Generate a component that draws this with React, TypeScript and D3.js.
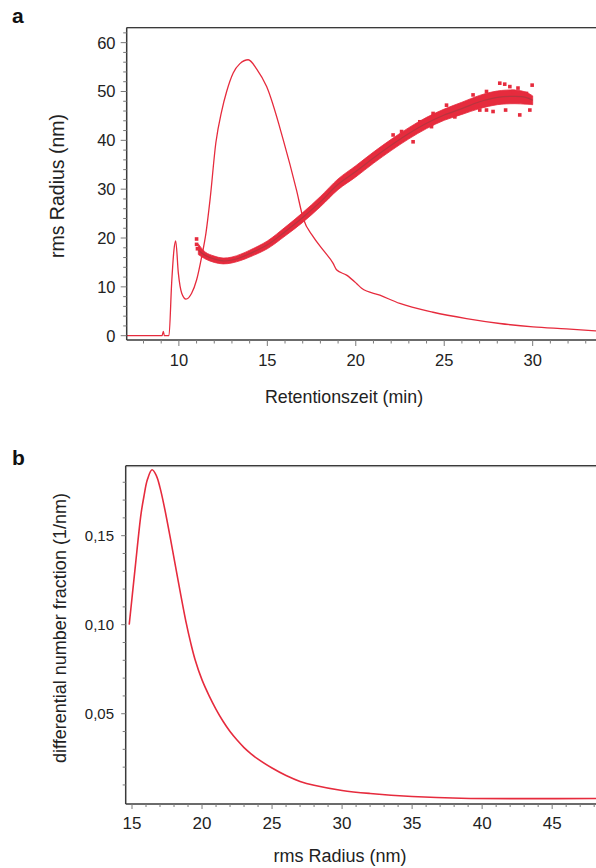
import React from "react";
import * as d3 from "d3";

// ---------- Panel a: detector trace ----------
const retentionTime = [7.05, 9.05, 9.12, 9.18, 9.44, 9.59, 9.72, 9.82, 9.97, 10.16, 10.4, 10.72, 11.0, 11.29, 11.53, 11.76, 12.09, 12.42, 12.7, 13.07, 13.45, 13.92, 14.4, 14.96, 15.9, 16.65, 17.03, 17.59, 18.16, 18.72, 18.91, 19.48, 20.04, 20.33, 21.36, 22.49, 24.37, 26.26, 28.14, 30.02, 31.9, 33.58];
const traceSignal = [0, 0, 0.9, 0, 0, 10.7, 17.5, 19.4, 12.8, 8.7, 7.5, 8.7, 11.4, 16.2, 21.0, 27.8, 39.5, 46.0, 50.0, 53.8, 55.7, 56.5, 54.6, 51.0, 40.1, 29.8, 24.0, 20.3, 17.5, 14.8, 13.5, 12.4, 10.7, 9.7, 8.3, 6.6, 4.8, 3.5, 2.5, 1.8, 1.4, 1.0];

// ---------- Panel a: rms radius scatter (band centre and spread) ----------
const radiusTime = [11.1, 11.5, 12.0, 12.5, 13.0, 13.5, 14.0, 15.0, 16.0, 17.0, 18.0, 19.0, 20.0, 21.0, 22.0, 23.0, 24.0, 25.0, 26.0, 27.0, 28.0, 29.0, 29.6, 30.0];
const radiusCenter = [17.5, 16.4, 15.7, 15.3, 15.5, 16.0, 16.8, 18.6, 21.3, 24.2, 27.4, 31.0, 33.6, 36.4, 39.0, 41.4, 43.5, 45.2, 46.5, 47.9, 48.8, 49.0, 48.8, 48.2];
const radiusLower = [16.6, 15.7, 15.0, 14.7, 14.9, 15.4, 16.1, 17.8, 20.4, 23.2, 26.4, 29.9, 32.5, 35.3, 37.9, 40.3, 42.4, 44.1, 45.3, 46.5, 47.3, 47.5, 47.4, 47.3];
const radiusUpper = [18.8, 17.1, 16.3, 15.9, 16.1, 16.7, 17.5, 19.4, 22.2, 25.2, 28.5, 32.1, 34.8, 37.6, 40.2, 42.6, 44.7, 46.4, 47.8, 49.2, 50.1, 50.3, 49.9, 49.1];
const outlierTime = [11.0, 11.0, 11.05, 22.11, 22.59, 23.24, 23.62, 24.28, 24.37, 25.13, 25.6, 26.63, 27.01, 27.39, 27.39, 27.76, 27.95, 28.14, 28.42, 28.47, 28.71, 28.89, 29.17, 29.27, 29.65, 29.84, 29.97];
const outlierRadius = [19.8, 18.7, 17.8, 41.1, 41.8, 39.7, 43.8, 42.8, 45.5, 47.2, 44.8, 49.3, 46.2, 50.0, 46.2, 45.9, 49.6, 51.7, 51.5, 46.2, 51.0, 50.0, 50.7, 45.2, 49.6, 46.2, 51.3];

const aXMajor = [10, 15, 20, 25, 30];
const aYMajor = [0, 10, 20, 30, 40, 50, 60];

// ---------- Panel b: distribution ----------
const rmsRadius = [14.8, 15.0, 15.24, 15.64, 15.85, 16.1, 16.43, 16.75, 17.0, 17.3, 17.8, 18.3, 18.87, 19.2, 19.5, 20.0, 20.5, 21.0, 21.5, 22.0, 22.5, 23.0, 23.5, 24.0, 25.0, 26.0, 27.0, 28.0, 30.0, 32.0, 35.0, 38.5, 48.2];
const numberFraction = [0.1, 0.115, 0.133, 0.162, 0.172, 0.1815, 0.187, 0.1835, 0.177, 0.1665, 0.146, 0.1245, 0.101, 0.0895, 0.0805, 0.069, 0.0602, 0.0525, 0.0458, 0.04, 0.0352, 0.031, 0.0275, 0.0245, 0.0195, 0.0153, 0.012, 0.0098, 0.0069, 0.0052, 0.0035, 0.0025, 0.0024];

const bXMajor = [15, 20, 25, 30, 35, 40, 45];
const bYMajor = [0.05, 0.1, 0.15];
const bYLabels = ["0,05", "0,10", "0,15"];

const RED = "#e62b3d";
const FIT = "#b8353f";
const AXIS = "#3a3a3a";
const TICK = "#7a7a7a";
const TEXT = "#222";
const FONT = "'Liberation Sans', Arial, Helvetica, sans-serif";

export default function App() {
  const W = 596, H = 868;

  const ax = d3.scaleLinear().domain([7.05, 33.58]).range([126.7, 596]);
  const ay = d3.scaleLinear().domain([-0.88, 63.1]).range([340, 27.5]);
  const bx = d3.scaleLinear().domain([14.55, 48.13]).range([125.7, 596]);
  const by = d3.scaleLinear().domain([-0.0007, 0.1893]).range([804, 465.7]);

  const traceLine = d3
    .line<number>()
    .x((_, i) => ax(retentionTime[i]))
    .y((d) => ay(d))
    .curve(d3.curveMonotoneX)(traceSignal) as string;

  const band = d3
    .area<number>()
    .x((_, i) => ax(radiusTime[i]))
    .y0((_, i) => ay(radiusLower[i]))
    .y1((_, i) => ay(radiusUpper[i]))
    .curve(d3.curveCatmullRom.alpha(0.5))(radiusCenter) as string;

  const fitLine = d3
    .line<number>()
    .x((_, i) => ax(radiusTime[i]))
    .y((d) => ay(d))
    .curve(d3.curveCatmullRom.alpha(0.5))(radiusCenter) as string;

  const distLine = d3
    .line<number>()
    .x((_, i) => bx(rmsRadius[i]))
    .y((d) => by(d))
    .curve(d3.curveCatmullRom.alpha(0.5))(numberFraction) as string;

  const aXMinor = d3.range(8, 34, 1).filter((v) => v % 5 !== 0);
  const aYMinor = d3.range(0, 63, 2).filter((v) => v % 10 !== 0);
  const bXMinor = d3.range(15, 49, 1).filter((v) => v % 5 !== 0);
  const bYMinor = d3.range(1, 19, 1).map((v) => v / 100).filter((v) => Math.round(v * 100) % 5 !== 0);

  const aLeft = ax.range()[0], aBottom = ay.range()[0], aTop = ay.range()[1];
  const bLeft = bx.range()[0], bBottom = by.range()[0], bTop = by.range()[1];

  return (
    <svg
      width={W}
      height={H}
      viewBox={`0 0 ${W} ${H}`}
      style={{ position: "absolute", left: 0, top: 0, background: "#fff" }}
      fontFamily={FONT}
    >
      <defs>
        <clipPath id="clipA">
          <rect x={aLeft} y={aTop} width={W - aLeft} height={aBottom - aTop} />
        </clipPath>
        <clipPath id="clipB">
          <rect x={bLeft} y={bTop} width={W - bLeft} height={bBottom - bTop} />
        </clipPath>
      </defs>
      <rect x={0} y={0} width={W} height={H} fill="#fff" />

      {/* ================= Panel a ================= */}
      <text x={12} y={23} fontSize={21} fontWeight="bold" fill="#111">a</text>

      <g clipPath="url(#clipA)">
        <path d={traceLine} fill="none" stroke={RED} strokeWidth={1.3} />
        <path d={band} fill={RED} stroke={RED} strokeWidth={0.8} />
        <path d={fitLine} fill="none" stroke={FIT} strokeWidth={1.2} />
        {outlierTime.map((t, i) => (
          <rect key={i} x={ax(t) - 1.8} y={ay(outlierRadius[i]) - 1.8} width={3.6} height={3.6} fill={RED} />
        ))}
      </g>

      <line x1={aLeft} x2={W} y1={aTop + 1} y2={aTop + 1} stroke="#bbb" strokeWidth={1} />
      <line x1={aLeft} x2={W} y1={aTop} y2={aTop} stroke={AXIS} strokeWidth={1.2} />
      <line x1={aLeft} x2={aLeft} y1={aTop} y2={aBottom} stroke={AXIS} strokeWidth={1.5} />
      <line x1={aLeft} x2={W} y1={aBottom} y2={aBottom} stroke={AXIS} strokeWidth={1.5} />

      {aYMajor.map((v) => (
        <g key={"aym" + v}>
          <line x1={aLeft - 6} x2={aLeft} y1={ay(v)} y2={ay(v)} stroke={TICK} strokeWidth={1} />
          <text x={115.5} y={ay(v) + 6} fontSize={16.5} textAnchor="end" fill={TEXT}>{v}</text>
        </g>
      ))}
      {aYMinor.map((v) => (
        <line key={"ayn" + v} x1={aLeft - 3.5} x2={aLeft} y1={ay(v)} y2={ay(v)} stroke={TICK} strokeWidth={1} />
      ))}

      {aXMajor.map((v) => (
        <g key={"axm" + v}>
          <line x1={ax(v)} x2={ax(v)} y1={aBottom} y2={aBottom + 6} stroke={TICK} strokeWidth={1} />
          <text x={ax(v)} y={366} fontSize={16.5} textAnchor="middle" fill={TEXT}>{v}</text>
        </g>
      ))}
      {aXMinor.map((v) => (
        <line key={"axn" + v} x1={ax(v)} x2={ax(v)} y1={aBottom} y2={aBottom + 3.5} stroke={TICK} strokeWidth={1} />
      ))}

      <text x={344} y={403} fontSize={17.8} textAnchor="middle" fill={TEXT}>Retentionszeit (min)</text>
      <text transform={`translate(64,186) rotate(-90)`} fontSize={19.5} textAnchor="middle" fill={TEXT}>
        rms Radius (nm)
      </text>

      {/* ================= Panel b ================= */}
      <text x={12} y={465} fontSize={21} fontWeight="bold" fill="#111">b</text>

      <g clipPath="url(#clipB)">
        <path d={distLine} fill="none" stroke={RED} strokeWidth={1.6} />
      </g>

      <line x1={bLeft} x2={W} y1={bTop + 1} y2={bTop + 1} stroke="#bbb" strokeWidth={1} />
      <line x1={bLeft} x2={W} y1={bTop} y2={bTop} stroke={AXIS} strokeWidth={1.2} />
      <line x1={bLeft} x2={bLeft} y1={bTop} y2={bBottom} stroke={AXIS} strokeWidth={1.5} />
      <line x1={bLeft} x2={W} y1={bBottom} y2={bBottom} stroke={AXIS} strokeWidth={1.5} />

      {bYMajor.map((v, i) => (
        <g key={"bym" + v}>
          <line x1={bLeft - 4.5} x2={bLeft} y1={by(v)} y2={by(v)} stroke={TICK} strokeWidth={1} />
          <text x={114} y={by(v) + 5.3} fontSize={15} textAnchor="end" fill={TEXT}>{bYLabels[i]}</text>
        </g>
      ))}
      {bYMinor.map((v) => (
        <line key={"byn" + v} x1={bLeft - 3} x2={bLeft} y1={by(v)} y2={by(v)} stroke={TICK} strokeWidth={1} />
      ))}

      {bXMajor.map((v) => (
        <g key={"bxm" + v}>
          <line x1={bx(v)} x2={bx(v)} y1={bBottom} y2={bBottom + 5} stroke={TICK} strokeWidth={1} />
          <text x={bx(v)} y={829} fontSize={17} textAnchor="middle" fill={TEXT}>{v}</text>
        </g>
      ))}
      {bXMinor.map((v) => (
        <line key={"bxn" + v} x1={bx(v)} x2={bx(v)} y1={bBottom} y2={bBottom + 3} stroke={TICK} strokeWidth={1} />
      ))}

      <text x={340} y={862} fontSize={18} textAnchor="middle" fill={TEXT}>rms Radius (nm)</text>
      <text transform={`translate(66,628) rotate(-90)`} fontSize={18} textAnchor="middle" fill={TEXT}>
        differential number fraction (1/nm)
      </text>
    </svg>
  );
}
